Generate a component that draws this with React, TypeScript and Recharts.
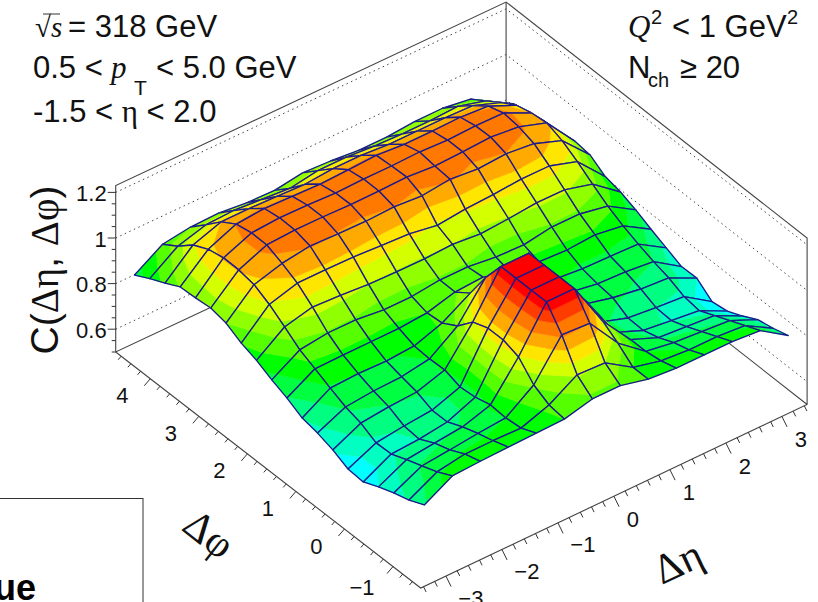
import React from 'react';
import { ScatterChart, Scatter, XAxis, YAxis } from 'recharts';

// Bin centres
const etaValues = [-3.25, -2.75, -2.25, -1.75, -1.25, -0.75, -0.25, 0.25, 0.75, 1.25, 1.75, 2.25, 2.75, 3.25];
const phiValues = [-1.414, -1.1, -0.785, -0.471, -0.157, 0.157, 0.471, 0.785, 1.1, 1.414, 1.728, 2.042, 2.356, 2.67, 2.985, 3.299, 3.613, 3.927, 4.241, 4.555];

// C(Δη, Δφ), one row per Δφ bin, one column per Δη bin
const cPhi00 = [0.815, 0.884, 0.89, 0.894, 0.897, 0.9, 0.93, 0.93, 0.9, 0.89, 0.89, 0.89, 0.88, 0.8];
const cPhi01 = [0.785, 0.85, 0.87, 0.87, 0.867, 0.91, 0.984, 0.978, 0.9, 0.87, 0.86, 0.86, 0.85, 0.78];
const cPhi02 = [0.764, 0.824, 0.836, 0.85, 0.86, 0.946, 1.107, 1.1, 0.955, 0.86, 0.84, 0.83, 0.82, 0.766];
const cPhi03 = [0.739, 0.8, 0.814, 0.827, 0.865, 1.017, 1.2, 1.2, 1.0, 0.86, 0.81, 0.8, 0.79, 0.73];
const cPhi04 = [0.709, 0.773, 0.78, 0.797, 0.847, 1.04, 1.2, 1.2, 1.03, 0.84, 0.79, 0.775, 0.76, 0.7];
const cPhi05 = [0.714, 0.77, 0.786, 0.797, 0.84, 1.04, 1.2, 1.2, 1.03, 0.833, 0.793, 0.78, 0.77, 0.69];
const cPhi06 = [0.746, 0.805, 0.818, 0.825, 0.863, 1.015, 1.2, 1.2, 1.02, 0.86, 0.83, 0.81, 0.8, 0.741];
const cPhi07 = [0.768, 0.824, 0.836, 0.84, 0.86, 0.946, 1.1, 1.1, 0.96, 0.86, 0.839, 0.833, 0.82, 0.74];
const cPhi08 = [0.782, 0.855, 0.86, 0.857, 0.865, 0.907, 0.98, 1.0, 0.93, 0.865, 0.853, 0.85, 0.845, 0.77];
const cPhi09 = [0.818, 0.888, 0.89, 0.89, 0.89, 0.9, 0.933, 0.94, 0.9, 0.89, 0.884, 0.892, 0.873, 0.8];
const cPhi10 = [0.846, 0.919, 0.935, 0.934, 0.92, 0.92, 0.934, 0.933, 0.918, 0.913, 0.933, 0.932, 0.908, 0.833];
const cPhi11 = [0.88, 0.968, 0.997, 0.99, 0.98, 0.976, 0.975, 0.98, 0.968, 0.976, 0.987, 0.986, 0.953, 0.86];
const cPhi12 = [0.904, 1.015, 1.05, 1.05, 1.048, 1.04, 1.033, 1.012, 1.025, 1.03, 1.04, 1.039, 1.0, 0.876];
const cPhi13 = [0.94, 1.05, 1.085, 1.103, 1.098, 1.095, 1.1, 1.09, 1.104, 1.091, 1.099, 1.085, 1.04, 0.919];
const cPhi14 = [0.954, 1.063, 1.114, 1.121, 1.12, 1.116, 1.117, 1.12, 1.11, 1.114, 1.12, 1.107, 1.066, 0.928];
const cPhi15 = [0.947, 1.064, 1.115, 1.123, 1.12, 1.115, 1.118, 1.117, 1.12, 1.114, 1.118, 1.116, 1.058, 0.916];
const cPhi16 = [0.943, 1.05, 1.102, 1.112, 1.107, 1.102, 1.107, 1.112, 1.102, 1.102, 1.104, 1.094, 1.04, 0.912];
const cPhi17 = [0.908, 1.017, 1.06, 1.06, 1.055, 1.05, 1.06, 1.06, 1.05, 1.05, 1.05, 1.045, 1.0, 0.9];
const cPhi18 = [0.876, 0.96, 0.995, 1.0, 0.99, 0.98, 1.0, 1.0, 0.99, 0.985, 0.985, 0.99, 0.956, 0.884];
const cPhi19 = [0.84, 0.917, 0.934, 0.937, 0.923, 0.92, 0.938, 0.932, 0.92, 0.92, 0.93, 0.93, 0.912, 0.84];
const cRows = [cPhi00, cPhi01, cPhi02, cPhi03, cPhi04, cPhi05, cPhi06, cPhi07, cPhi08, cPhi09, cPhi10, cPhi11, cPhi12, cPhi13, cPhi14, cPhi15, cPhi16, cPhi17, cPhi18, cPhi19];

const etaTicks = [-3, -2, -1, 0, 1, 2, 3];
const phiTicks = [-1, 0, 1, 2, 3, 4];
const cTicks = [0.6, 0.8, 1, 1.2];

const bandEdges = [0.74, 0.78, 0.82, 0.86, 0.9, 0.94, 0.98, 1.02, 1.06, 1.1, 1.14, 1.175];
const bandColors = ['#00ffff', '#00ffc0', '#00ff80', '#00ff40', '#00ff00', '#55ff00', '#90ff00', '#d4ff00', '#ffe600', '#ffaa00', '#ff7800', '#ff3c00', '#ff0000'];

const W = 818;
const H = 602;
const ETA_MIN = -3.45, ETA_MAX = 3.45, PHI_MIN = -1.5708, PHI_MAX = 4.7124, C_MIN = 0.5, C_MAX = 1.23;

// oblique projection of the lego box onto the page
const project = (eta: number, phi: number, c: number) => ({
  sx: 420.7 + 56 * (eta - ETA_MIN) - 48.54 * (phi - PHI_MIN),
  sy: 588 - 26.6 * (eta - ETA_MIN) - 37.56 * (phi - PHI_MIN) - 228 * (c - C_MIN),
});

type V = { x: number; y: number; z: number };

const clipBand = (poly: V[], lo: number, hi: number): V[] => {
  const clip = (pts: V[], inside: (v: V) => boolean, lim: number) => {
    const out: V[] = [];
    pts.forEach((a, k) => {
      const b = pts[(k + 1) % pts.length];
      const ia = inside(a);
      const ib = inside(b);
      if (ia) out.push(a);
      if (ia !== ib) {
        const t = (lim - a.z) / (b.z - a.z);
        out.push({ x: a.x + t * (b.x - a.x), y: a.y + t * (b.y - a.y), z: lim });
      }
    });
    return out;
  };
  return clip(clip(poly, (v) => v.z >= lo, lo), (v) => v.z <= hi, hi);
};

// cells far to near for painter's order
const cells: any[] = [];
for (let i = phiValues.length - 2; i >= 0; i--) {
  for (let j = etaValues.length - 2; j >= 0; j--) {
    const corner = (a: number, b: number): V => {
      const p = project(etaValues[b], phiValues[a], cRows[a][b]);
      return { x: p.sx, y: p.sy, z: cRows[a][b] };
    };
    const poly = [corner(i, j), corner(i, j + 1), corner(i + 1, j + 1), corner(i + 1, j)];
    const sx = poly.reduce((s, v) => s + v.x, 0) / 4;
    const sy = poly.reduce((s, v) => s + v.y, 0) / 4;
    cells.push({ sx, sy, poly });
  }
}

const CellShape = (props: any) => {
  const { cx, cy, payload } = props;
  const rel = (v: { x: number; y: number }) => `${(v.x - payload.sx + cx).toFixed(2)},${(v.y - payload.sy + cy).toFixed(2)}`;
  const edges = [-10, ...bandEdges, 10];
  return (
    <g>
      {bandColors.map((col, k) => {
        const part = clipBand(payload.poly, edges[k], edges[k + 1]);
        if (part.length < 3) return null;
        return <polygon key={k} points={part.map(rel).join(' ')} fill={col} stroke={col} strokeWidth={0.6} />;
      })}
      <polygon points={payload.poly.map(rel).join(' ')} fill="none" stroke="#1a1a8c" strokeWidth={1.35} strokeLinejoin="round" />
    </g>
  );
};

const NoPoint = () => null;

const pt = (e: number, f: number, c: number) => project(e, f, c);
// slight perspective of the far corner
const BACK_ETA = 3.494, BACK_PHI = 4.681;

const solidPaths = [
  [pt(ETA_MIN, PHI_MAX, C_MIN), pt(ETA_MIN, PHI_MIN, C_MIN), pt(ETA_MAX, PHI_MIN, C_MIN), pt(ETA_MAX, PHI_MIN, C_MAX), pt(BACK_ETA, BACK_PHI, C_MAX), pt(ETA_MIN, PHI_MAX, C_MAX), pt(ETA_MIN, PHI_MAX, C_MIN), pt(BACK_ETA, BACK_PHI, C_MIN), pt(ETA_MAX, PHI_MIN, C_MIN)],
  [pt(BACK_ETA, BACK_PHI, C_MIN), pt(BACK_ETA, BACK_PHI, C_MAX)],
];
const gridPaths = cTicks.map((c) => [pt(ETA_MIN, PHI_MAX, c), pt(BACK_ETA, BACK_PHI, c), pt(ETA_MAX, PHI_MIN, c)]);

const TickShape = (props: any) => {
  const { cx, cy, payload } = props;
  return <line x1={cx} y1={cy} x2={cx + payload.dx} y2={cy + payload.dy} stroke="#333" strokeWidth={1} />;
};
const LabelShape = (props: any) => {
  const { cx, cy, payload } = props;
  return (
    <text x={cx + payload.dx} y={cy + payload.dy} textAnchor={payload.anchor} dominantBaseline="central" fontFamily="Liberation Sans" fontSize={22} fill="#111">
      {payload.label}
    </text>
  );
};

const minorRange = (lo: number, hi: number, step: number) => {
  const out: number[] = [];
  for (let k = Math.ceil(lo / step - 1e-6); k * step <= hi + 1e-6; k++) out.push(+(k * step).toFixed(3));
  return out;
};
const isMajor = (v: number) => Math.abs(v - Math.round(v)) < 1e-6;

const etaTickMarks = minorRange(ETA_MIN, ETA_MAX, 0.2).map((v) => {
  const m = isMajor(v) ? 1 : 0.5;
  return { ...project(v, PHI_MIN, C_MIN), dx: 5.2 * m, dy: 10.5 * m };
});
const phiTickMarks = minorRange(PHI_MIN, PHI_MAX, 0.2).map((v) => {
  const m = isMajor(v) ? 1 : 0.5;
  return { ...project(ETA_MIN, v, C_MIN), dx: -6 * m, dy: 7 * m };
});
const cTickMarks = minorRange(C_MIN, 1.2, 0.05).map((v) => {
  const m = Math.abs(v * 5 - Math.round(v * 5)) < 1e-6 ? 1 : 0.5;
  return { ...project(ETA_MIN, PHI_MAX, v), dx: -8 * m, dy: 0 };
});
const etaLabels = etaTicks.map((v) => ({ ...project(v, PHI_MIN, C_MIN), dx: v < 0 ? 25 : 19, dy: v < 0 ? 22 : 23, anchor: 'middle', label: v < 0 ? `\u2212${-v}` : `${v}` }));
const phiLabels = phiTicks.map((v) => ({ ...project(ETA_MIN, v, C_MIN), dx: v < 0 ? -31 : -28, dy: v < 0 ? 21 : 17, anchor: 'middle', label: v < 0 ? `\u2212${-v}` : `${v}` }));
const cLabels = cTicks.map((v) => ({ ...project(ETA_MIN, PHI_MAX, v), dx: -9, dy: 1, anchor: 'end', label: `${v}` }));

const serif = 'Liberation Serif';
const sans = 'Liberation Sans';

export default function App() {
  return (
    <div style={{ position: 'absolute', left: 0, top: 0, width: W, height: H, overflow: 'hidden', background: '#fff' }}>
      <ScatterChart width={W} height={H} margin={{ top: 0, right: 0, bottom: 0, left: 0 }}>
        <XAxis type="number" dataKey="sx" domain={[0, W]} hide />
        <YAxis type="number" dataKey="sy" domain={[0, H]} reversed hide />
        {gridPaths.map((d, k) => (
          <Scatter key={`g${k}`} data={d} shape={NoPoint} line={{ stroke: '#444', strokeWidth: 1, strokeDasharray: '1.5 3.5' }} isAnimationActive={false} />
        ))}
        {solidPaths.map((d, k) => (
          <Scatter key={`s${k}`} data={d} shape={NoPoint} line={{ stroke: '#444', strokeWidth: 1.1 }} isAnimationActive={false} />
        ))}
        <Scatter data={etaTickMarks} shape={TickShape} isAnimationActive={false} />
        <Scatter data={phiTickMarks} shape={TickShape} isAnimationActive={false} />
        <Scatter data={cTickMarks} shape={TickShape} isAnimationActive={false} />
        <Scatter data={etaLabels} shape={LabelShape} isAnimationActive={false} />
        <Scatter data={phiLabels} shape={LabelShape} isAnimationActive={false} />
        <Scatter data={cLabels} shape={LabelShape} isAnimationActive={false} />
        <Scatter data={cells} shape={CellShape} isAnimationActive={false} />
      </ScatterChart>
      <svg width={W} height={H} style={{ position: 'absolute', left: 0, top: 0, pointerEvents: 'none' }}>
        <g fontFamily={sans} fontSize={31} fill="#111">
          <text x={35} y={37} fontFamily={serif} fontSize={29}>√<tspan fontStyle="italic" dx={0}>s</tspan></text>
          <line x1={43} y1={14} x2={60} y2={14} stroke="#333" strokeWidth={1} />
          <text x={68} y={37}>= 318 GeV</text>
          <text x={33} y={78}>0.5 &lt;</text>
          <text x={111} y={78} fontFamily={serif} fontStyle="italic">p</text>
          <text x={134} y={95} fontSize={21}>T</text>
          <text x={156} y={78}>&lt; 5.0 GeV</text>
          <text x={33} y={122}>-1.5 &lt; <tspan fontFamily={serif}>η</tspan> &lt; 2.0</text>
          <text x={628} y={37} fontFamily={serif} fontStyle="italic">Q</text>
          <text x={651} y={24} fontSize={20}>2</text>
          <text x={672} y={37}>&lt; 1 GeV</text>
          <text x={787} y={24} fontSize={20}>2</text>
          <text x={628} y={78}>N</text>
          <text x={648} y={87} fontSize={20}>ch</text>
          <text x={680} y={78}>≥ 20</text>
        </g>
        <text transform="translate(58,270) rotate(-90)" textAnchor="middle" fontFamily={sans} fontSize={39} fill="#111">C(<tspan fontFamily={serif}>Δη</tspan>, <tspan fontFamily={serif}>Δφ</tspan>)</text>
        <text transform="translate(209,534) rotate(38)" textAnchor="middle" dominantBaseline="central" fontFamily={serif} fontSize={42} fill="#111">Δφ</text>
        <text transform="translate(678,562) rotate(-25)" textAnchor="middle" dominantBaseline="central" fontFamily={serif} fontSize={42} fill="#111">Δη</text>
        <rect x={-2} y={498.5} width={145} height={120} fill="none" stroke="#333" strokeWidth={1} />
        <text x={36} y={600} textAnchor="end" fontFamily={sans} fontWeight="bold" fontSize={36} fill="#000">ue</text>
      </svg>
    </div>
  );
}
